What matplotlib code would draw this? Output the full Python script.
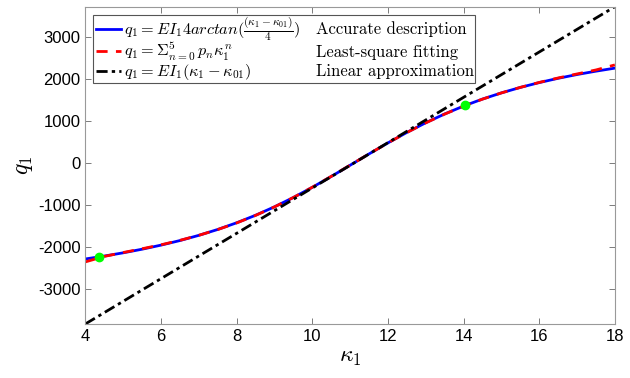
import matplotlib
matplotlib.use("Agg")
import matplotlib.pyplot as plt
from matplotlib.patches import Rectangle

plt.rcParams["mathtext.fontset"] = "cm"
plt.rcParams["axes.unicode_minus"] = False

# values
kappa = [4.0, 4.5, 5.0, 5.5, 6.0, 6.5, 7.0, 7.5, 8.0, 8.5, 9.0, 9.5, 10.0, 10.5,
         11.0, 11.5, 12.0, 12.5, 13.0, 13.5, 14.0, 14.5, 15.0, 15.5, 16.0, 16.5,
         17.0, 17.5, 18.0]
q_accurate = [-2285, -2216, -2139, -2053, -1956, -1847, -1723, -1583, -1424, -1245,
              -1044, -822, -580, -322, -54, 215, 478, 727, 958, 1167, 1355, 1522,
              1669, 1799, 1914, 2016, 2106, 2186, 2258]
q_fit = [-2355, -2225, -2132, -2042, -1948, -1842, -1722, -1585, -1428, -1248,
         -1046, -822, -578, -320, -52, 216, 478, 725, 955, 1164, 1352, 1520,
         1668, 1800, 1918, 2024, 2120, 2215, 2335]
kappa_lin = [4.0, 18.0]
q_lin = [-3833, 3721]
kappa_pts = [4.35, 14.05]
q_pts = [-2240, 1372]

formulas = [r"$q_1 = EI_1 4 arctan(\frac{(\kappa_1-\kappa_{01})}{4})$",
            r"$q_1 = \Sigma_{n=0}^{5}\, p_n \kappa_1^n$",
            r"$q_1 = EI_1(\kappa_1-\kappa_{01})$"]
descriptions = ["Accurate description", "Least-square fitting", "Linear approximation"]

fig = plt.figure(figsize=(6.3, 3.78), dpi=100)
ax = fig.add_axes([0.1354, 0.1429, 0.8406, 0.8394])

blue = dict(color="#0000ff", lw=2)
red = dict(color="#ff0000", lw=2, ls=(0, (4, 3)))
black = dict(color="black", lw=2, ls=(0, (4, 1.5, 1.2, 1.5)))

ax.plot(kappa, q_accurate, **blue)
ax.plot(kappa, q_fit, **red)
ax.plot(kappa_lin, q_lin, **black)
ax.plot(kappa_pts, q_pts, "o", color="#00ff00", ms=6, zorder=5)

ax.set_xlim(4, 18)
ax.set_ylim(-3833, 3721)
ax.set_xticks(range(4, 19, 2))
ax.set_yticks(range(-3000, 3001, 1000))
ax.tick_params(direction="in", top=True, right=True, length=4, width=0.6,
               color="#666666", labelsize=12)
for lab in ax.get_xticklabels() + ax.get_yticklabels():
    lab.set_family("Liberation Sans")
for sp in ax.spines.values():
    sp.set_color("#999999")
    sp.set_linewidth(0.8)

ax.set_xlabel(r"$\kappa_1$", fontsize=17, labelpad=0)
ax.set_ylabel(r"$q_1$", fontsize=17, labelpad=2)

# legend drawn by hand so the description column lines up like the original
ax.add_patch(Rectangle((0.0145, 0.7595), 0.7212, 0.2155, transform=ax.transAxes,
                       facecolor="white", edgecolor="#555555", lw=0.8, zorder=6))
line_y = [0.931, 0.861, 0.796]
text_y = [0.914, 0.843, 0.781]
for style, f, d, ly, ty in zip([blue, red, black], formulas, descriptions, line_y, text_y):
    ax.plot([0.0207, 0.0679], [ly, ly], transform=ax.transAxes, zorder=7, **style)
    ax.text(0.0732, ty, f, transform=ax.transAxes, fontsize=11.7, va="baseline",
            zorder=7)
    ax.text(0.4356, ty, d, transform=ax.transAxes, fontsize=12, va="baseline",
            family="cmr10", zorder=7)

fig.savefig("out.png", dpi=100)
